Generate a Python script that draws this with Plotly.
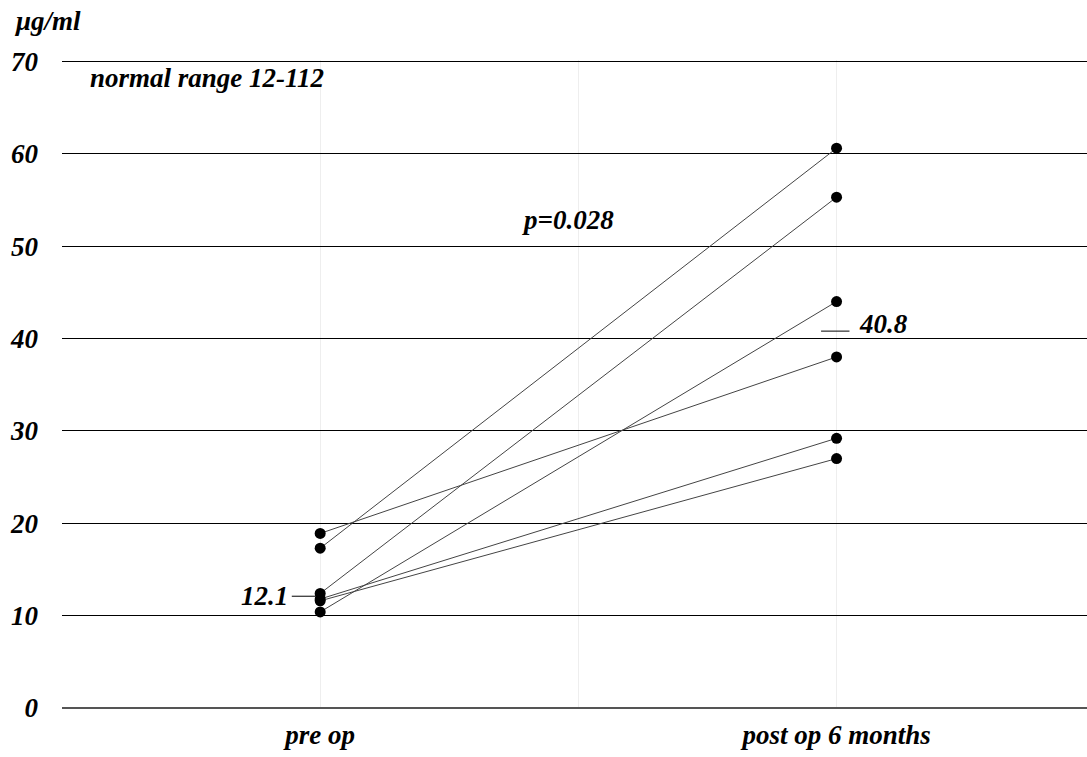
import plotly.graph_objects as go

categories = ["pre op", "post op 6 months"]
cat_pos = [1, 3]
pre_values = [18.9, 17.3, 12.4, 11.8, 11.6, 10.4]
post_values = [38.0, 60.6, 55.3, 29.2, 27.0, 44.0]
y_ticks = [0, 10, 20, 30, 40, 50, 60, 70]
median_pre = 12.1
median_post = 40.8
p_text = "p=0.028"
normal_text = "normal range 12-112"
unit_text = "μg/ml"

FONT = "Liberation Serif, Times New Roman, serif"
FS = 27

fig = go.Figure()
for a, b in zip(pre_values, post_values):
    fig.add_trace(go.Scatter(
        x=cat_pos, y=[a, b], mode="lines+markers",
        line=dict(color="#444444", width=1),
        marker=dict(color="black", size=11),
        showlegend=False, hoverinfo="skip"))

fig.update_layout(
    width=1087, height=757,
    margin=dict(l=62, r=0, t=60, b=49),
    paper_bgcolor="white", plot_bgcolor="white",
    font=dict(family=FONT, size=FS, color="black", weight="bold", style="italic"),
    xaxis=dict(range=[0, 3.97], tickvals=cat_pos, ticktext=categories,
               showgrid=True, gridcolor="#eeeeee", gridwidth=1,
               minor=dict(tick0=0, dtick=1, showgrid=True, gridcolor="#eeeeee"),
               zeroline=False, showline=False, ticks="",
               ticklabelstandoff=8,
               tickfont=dict(family=FONT, size=FS, weight="bold", style="italic")),
    yaxis=dict(range=[0, 70.15], tickvals=y_ticks, showgrid=True, gridcolor="black",
               gridwidth=1, zeroline=True, zerolinecolor="#555555", zerolinewidth=1.5,
               showline=False, ticks="", ticklabelstandoff=23,
               tickfont=dict(family=FONT, size=FS, weight="bold", style="italic")),
)

ann_font = dict(family=FONT, size=FS, color="black", weight="bold", style="italic")
fig.add_annotation(x=0.1, y=68.2, xref="x", yref="y", text=normal_text,
                   showarrow=False, xanchor="left", yanchor="middle", font=ann_font)
fig.add_annotation(x=1.96, y=52.8, xref="x", yref="y", text=p_text,
                   showarrow=False, xanchor="center", yanchor="middle", font=ann_font)
fig.add_annotation(x=0.885, y=median_pre, xref="x", yref="y", text=str(median_pre),
                   showarrow=False, xanchor="right", yanchor="middle", font=ann_font)
fig.add_shape(type="line", xref="x", yref="y", x0=0.89, x1=0.98, y0=median_pre, y1=median_pre,
              line=dict(color="black", width=1))
fig.add_shape(type="line", xref="x", yref="y", x0=2.94, x1=3.05, y0=median_post, y1=median_post,
              line=dict(color="black", width=1))
fig.add_annotation(x=3.08, y=median_post + 0.8, xref="x", yref="y", text=str(median_post),
                   showarrow=False, xanchor="left", yanchor="middle", font=ann_font)
fig.add_annotation(x=0, y=1, xref="paper", yref="paper", text=unit_text,
                   showarrow=False, xanchor="left", yanchor="middle", font=ann_font,
                   xshift=-50, yshift=39)

fig.write_html("out.html")
